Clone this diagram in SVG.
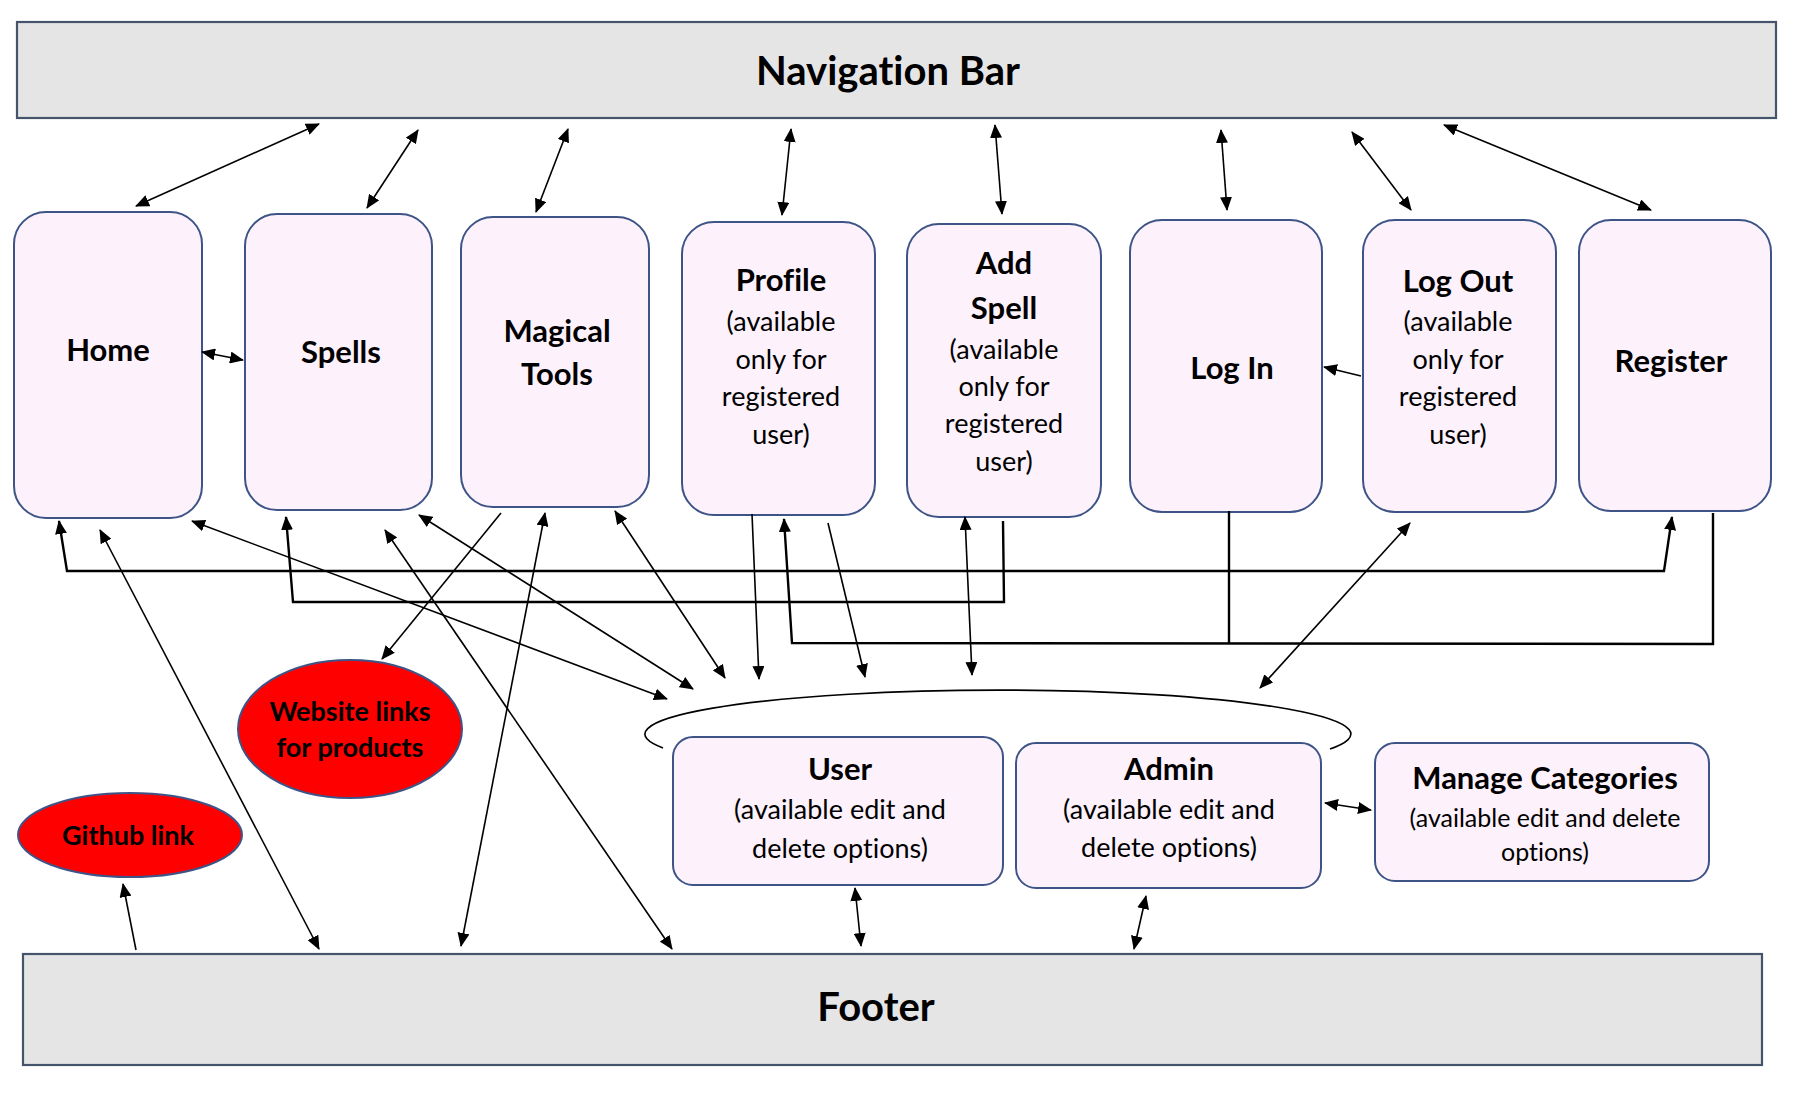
<svg xmlns="http://www.w3.org/2000/svg" width="1793" height="1097" viewBox="0 0 1793 1097">
<defs>
<marker id="ah" viewBox="0 0 14 12" refX="13" refY="6" markerWidth="14" markerHeight="12" markerUnits="userSpaceOnUse" orient="auto-start-reverse">
<path d="M0,0 L14,6 L0,12 z" fill="#000"/>
</marker>
<style>
.bar{fill:#e6e5e6;stroke:#44546a;stroke-width:2.2}
.node{fill:#fdf2fc;stroke:#3e5487;stroke-width:2}
.red{fill:#ff0000;stroke:#3e5487;stroke-width:2}
text{font-family:Lato,"Liberation Sans",sans-serif;fill:#000;text-anchor:middle;font-variant-ligatures:none}
.big{font-size:40px;font-weight:bold}
.t{font-size:31px;font-weight:bold}
.s{font-size:27px}
.s2{font-size:25px}
.e{font-size:27px;font-weight:bold}
.c line,.c path{stroke:#000;stroke-width:1.6;fill:none}
.c .p{stroke-width:2.4}
.d{marker-start:url(#ah);marker-end:url(#ah)}
.a{marker-end:url(#ah)}
</style>
</defs>
<rect width="1793" height="1097" fill="#fff"/>
<g id="nav"><rect class="bar" x="17" y="22" width="1759" height="96"/><text class="big" x="888" y="85">Navigation Bar</text></g>
<g id="footer"><rect class="bar" x="23" y="954" width="1739" height="111"/><text class="big" x="876" y="1021">Footer</text></g>
<g id="home"><rect class="node" x="14" y="212" width="188" height="306" rx="32"/><text class="t" x="108" y="361">Home</text></g>
<g id="spells"><rect class="node" x="245" y="214" width="187" height="296" rx="32"/><text class="t" x="341" y="363">Spells</text></g>
<g id="magical-tools"><rect class="node" x="461" y="217" width="188" height="290" rx="32"/><text class="t" x="557" y="342">Magical</text><text class="t" x="557" y="385">Tools</text></g>
<g id="profile"><rect class="node" x="682" y="222" width="193" height="293" rx="32"/><text class="t" x="781" y="291">Profile</text><text class="s" x="781" y="331">(available</text><text class="s" x="781" y="369">only for</text><text class="s" x="781" y="406">registered</text><text class="s" x="781" y="444">user)</text></g>
<g id="add-spell"><rect class="node" x="907" y="224" width="194" height="293" rx="32"/><text class="t" x="1004" y="274">Add</text><text class="t" x="1004" y="319">Spell</text><text class="s" x="1004" y="359">(available</text><text class="s" x="1004" y="396">only for</text><text class="s" x="1004" y="433">registered</text><text class="s" x="1004" y="471">user)</text></g>
<g id="log-in"><rect class="node" x="1130" y="220" width="192" height="292" rx="32"/><text class="t" x="1232" y="379">Log In</text></g>
<g id="log-out"><rect class="node" x="1363" y="220" width="193" height="292" rx="32"/><text class="t" x="1458" y="292">Log Out</text><text class="s" x="1458" y="331">(available</text><text class="s" x="1458" y="369">only for</text><text class="s" x="1458" y="406">registered</text><text class="s" x="1458" y="444">user)</text></g>
<g id="register"><rect class="node" x="1579" y="220" width="192" height="291" rx="32"/><text class="t" x="1671" y="372">Register</text></g>
<g id="website-links"><ellipse class="red" cx="350" cy="729" rx="112" ry="69"/><text class="e" x="350" y="721">Website links</text><text class="e" x="350" y="757">for products</text></g>
<g id="github-link"><ellipse class="red" cx="130" cy="835" rx="112" ry="42"/><text class="e" x="128" y="845">Github link</text></g>
<g id="user"><rect class="node" x="673" y="737" width="330" height="148" rx="20"/><text class="t" x="840" y="780">User</text><text class="s" x="840" y="819">(available edit and</text><text class="s" x="840" y="858">delete options)</text></g>
<g id="admin"><rect class="node" x="1016" y="743" width="305" height="145" rx="20"/><text class="t" x="1169" y="780">Admin</text><text class="s" x="1169" y="819">(available edit and</text><text class="s" x="1169" y="857">delete options)</text></g>
<g id="manage-categories"><rect class="node" x="1375" y="743" width="334" height="138" rx="20"/><text class="t" x="1545" y="789">Manage Categories</text><text class="s2" x="1545" y="827">(available edit and delete</text><text class="s2" x="1545" y="861">options)</text></g>
<g id="connectors" class="c">
<path d="M663 748 A353 44 0 1 1 1330 749"/>
<line class="d" x1="136" y1="206" x2="319" y2="124"/>
<line class="d" x1="367" y1="208" x2="418" y2="130"/>
<line class="d" x1="536" y1="212" x2="568" y2="129"/>
<line class="d" x1="782" y1="215" x2="791" y2="129"/>
<line class="d" x1="1002" y1="214" x2="995" y2="125"/>
<line class="d" x1="1227" y1="210" x2="1221" y2="130"/>
<line class="d" x1="1411" y1="210" x2="1352" y2="132"/>
<line class="d" x1="1651" y1="210" x2="1444" y2="125"/>
<line class="d" x1="202" y1="352" x2="243" y2="360"/>
<line class="a" x1="1361" y1="376" x2="1324" y2="367"/>
<path class="p d" d="M59 521 L67 571 L1664 571 L1672 517"/>
<path class="p a" d="M1003 521 L1004 602 L293 602 L286 517"/>
<path class="p a" d="M1713 513 L1713 644 L792 643 L784 519"/>
<path class="p" d="M1229 511 L1229 643"/>
<line class="a" x1="752" y1="514" x2="759" y2="679"/>
<line class="a" x1="828" y1="523" x2="865" y2="677"/>
<line class="d" x1="965" y1="517" x2="972" y2="675"/>
<line class="d" x1="1410" y1="523" x2="1260" y2="688"/>
<line class="d" x1="192" y1="521" x2="667" y2="699"/>
<line class="d" x1="419" y1="515" x2="693" y2="689"/>
<line class="d" x1="615" y1="511" x2="725" y2="678"/>
<line class="a" x1="501" y1="513" x2="382" y2="659"/>
<line class="d" x1="545" y1="513" x2="461" y2="946"/>
<line class="d" x1="100" y1="530" x2="319" y2="949"/>
<line class="d" x1="385" y1="530" x2="672" y2="949"/>
<line class="a" x1="136" y1="950" x2="123" y2="884"/>
<line class="d" x1="855" y1="888" x2="861" y2="946"/>
<line class="d" x1="1146" y1="896" x2="1134" y2="949"/>
<line class="d" x1="1325" y1="803" x2="1371" y2="810"/>
</g>
</svg>
